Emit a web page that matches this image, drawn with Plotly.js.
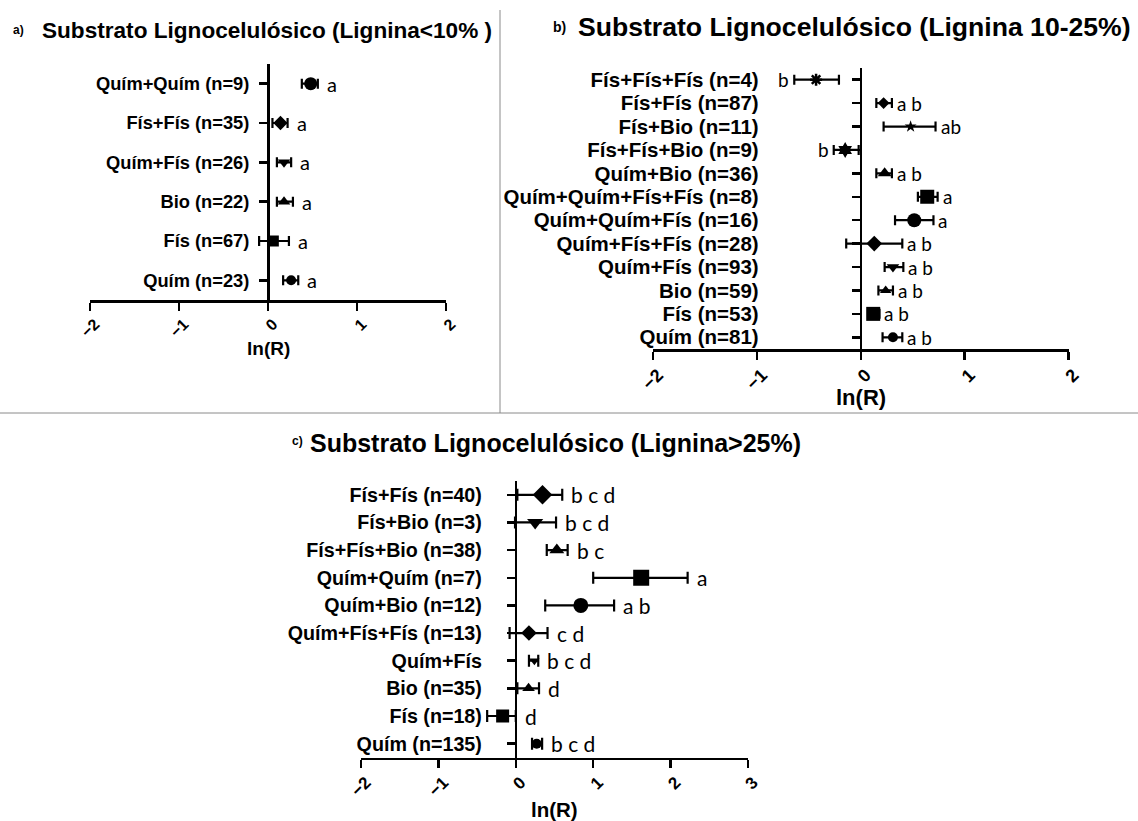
<!DOCTYPE html>
<html>
<head>
<meta charset="utf-8">
<script src="https://cdn.plot.ly/plotly-3.0.1.min.js"></script>
<style>html,body{margin:0;padding:0;background:#fff}#chart{width:1138px;height:821px}</style>
</head>
<body>
<div id="chart"></div>
<script>
// ---------- Panel a) Lignina<10% ----------
const catsA  = ['Quím+Quím (n=9)','Fís+Fís (n=35)','Quím+Fís (n=26)','Bio (n=22)','Fís (n=67)','Quím (n=23)'];
const meanA  = [0.48, 0.14, 0.18, 0.18, 0.06, 0.26];
const lowA   = [0.38, 0.05, 0.10, 0.10, -0.10, 0.17];
const highA  = [0.56, 0.22, 0.26, 0.28, 0.235, 0.34];
const letA   = ['a','a','a','a','a','a'];

// ---------- Panel b) Lignina 10-25% ----------
const catsB  = ['Fís+Fís+Fís (n=4)','Fís+Fís (n=87)','Fís+Bio (n=11)','Fís+Fís+Bio (n=9)','Quím+Bio (n=36)',
                'Quím+Quím+Fís+Fís (n=8)','Quím+Quím+Fís (n=16)','Quím+Fís+Fís (n=28)','Quím+Fís (n=93)',
                'Bio (n=59)','Fís (n=53)','Quím (n=81)'];
const meanB  = [-0.43, 0.22, 0.48, -0.15, 0.23, 0.64, 0.515, 0.13, 0.31, 0.24, 0.12, 0.31];
const lowB   = [-0.64, 0.15, 0.22, -0.26, 0.15, 0.55, 0.33, -0.14, 0.23, 0.17, 0.07, 0.21];
const highB  = [-0.21, 0.30, 0.72, -0.02, 0.30, 0.74, 0.70, 0.40, 0.41, 0.31, 0.18, 0.40];
const letB   = ['b','a b','ab','b','a b','a','a','a b','a b','a b','a b','a b'];
const letBLeft = [true,false,false,true,false,false,false,false,false,false,false,false];

// ---------- Panel c) Lignina>25% ----------
const catsC  = ['Fís+Fís (n=40)','Fís+Bio (n=3)','Fís+Fís+Bio (n=38)','Quím+Quím (n=7)','Quím+Bio (n=12)',
                'Quím+Fís+Fís (n=13)','Quím+Fís','Bio (n=35)','Fís (n=18)','Quím (n=135)'];
const meanC  = [0.345, 0.25, 0.53, 1.62, 0.84, 0.17, 0.24, 0.165, -0.17, 0.27];
const lowC   = [0.02, -0.01, 0.40, 1.00, 0.38, -0.08, 0.17, 0.02, -0.37, 0.21];
const highC  = [0.60, 0.52, 0.67, 2.22, 1.27, 0.41, 0.29, 0.30, 0.00, 0.34];
const letC   = ['b c d','b c d','b c','a','a b','c d','b c d','d','d','b c d'];

const tickVals = [-2,-1,0,1,2,3];
const axisTitle = 'ln(R)';

// ---------- styles ----------
const symA = ['circle','diamond','triangle-down','triangle-up','square','circle'];
const sizA = [13,11,11,11,11,10];
const symB = ['asterisk-open','diamond','star','hexagram','triangle-up','square','circle','diamond','triangle-down','triangle-up','square','circle'];
const sizB = [10,9,9,12,12,14,14,12,11,10,14,10];
const symC = ['diamond','triangle-down','triangle-up','square','circle','diamond','triangle-down','triangle-up','square','circle'];
const sizC = [15,14,13,16,15,12,9,11,13,10];

const W = 1138, H = 821;
const LAB = 'Liberation Sans, Arial, sans-serif';
const LET = 'Lato, Open Sans, sans-serif';

function trace(cats, mean, low, high, sym, siz, xa, ya, capw){
  return {
    type:'scatter', mode:'markers', x:mean, y:cats, xaxis:xa, yaxis:ya,
    marker:{symbol:sym, size:siz, color:'#000', opacity:1,
            line:{color:'#000', width:sym.map(s=>s.indexOf('open')>=0?2.5:0)}},
    error_x:{type:'data', symmetric:false,
             array:high.map((h,i)=>h-mean[i]), arrayminus:low.map((l,i)=>mean[i]-l),
             color:'#000', thickness:2.2, width:capw},
    hoverinfo:'x+y', showlegend:false
  };
}

const data = [
  trace(catsA, meanA, lowA, highA, symA, sizA, 'x', 'y', 5),
  trace(catsB, meanB, lowB, highB, symB, sizB, 'x2', 'y2', 5),
  trace(catsC, meanC, lowC, highC, symC, sizC, 'x3', 'y3', 6)
];

function px2fx(p){ return p / W; }
function py2fy(p){ return 1 - p / H; }

const domA = {x:[px2fx(90), px2fx(446)],  y:[py2fy(300), py2fy(64)],   r:[-2,2]};
const domB = {x:[px2fx(653), px2fx(1068.5)], y:[py2fy(349), py2fy(68)], r:[-2,2]};
const domC = {x:[px2fx(361), px2fx(748)], y:[py2fy(757.5), py2fy(481)], r:[-2,3]};
function zeroPos(d){ return d.x[0] + (0 - d.r[0])/(d.r[1]-d.r[0])*(d.x[1]-d.x[0]); }

function xAxis(d, ya, fs){
  return {
    domain:d.x, anchor:ya, range:d.r, tickmode:'array', tickvals:tickVals.filter(v=>v>=d.r[0]&&v<=d.r[1]),
    ticks:'outside', ticklen:8, tickwidth:2.5, tickcolor:'#000',
    showline:true, linewidth:2.5, linecolor:'#000', showgrid:false, zeroline:false,
    tickangle:-45, ticklabelshift:5, ticklabelstandoff:-2,
    tickfont:{family:LAB, size:fs, color:'#000', weight:'bold'},
    fixedrange:true
  };
}
function yAxis(d, cats, fs, standoff){
  return {
    domain:d.y, anchor:'free', position:zeroPos(d),
    type:'category', categoryorder:'array', categoryarray:cats,
    tickmode:'array', tickvals:cats, ticktext:cats,
    range:[cats.length-0.5, -0.5],
    ticks:'outside', ticklen:8, tickwidth:2.5, tickcolor:'#000',
    showline:true, linewidth:2.5, linecolor:'#000', showgrid:false, zeroline:false,
    tickfont:{family:LAB, size:fs, color:'#000', weight:'bold'},
    ticklabelstandoff:standoff, fixedrange:true
  };
}

const annotations = [];
function letters(cats, low, high, lets, leftFlags, xa, ya, fs, shift){
  cats.forEach((c,i)=>{
    const left = leftFlags && leftFlags[i];
    annotations.push({
      xref:xa, yref:ya, x: left ? low[i] : high[i], y:c,
      text:lets[i], showarrow:false,
      xanchor: left ? 'right' : 'left', yanchor:'middle',
      xshift: left ? -shift : shift,
      font:{family:LET, size:fs, color:'#000'}
    });
  });
}
letters(catsA, lowA, highA, letA, null, 'x', 'y', 20, 7);
letters(catsB, lowB, highB, letB, letBLeft, 'x2', 'y2', 19, 3);
letters(catsC, lowC, highC, letC, null, 'x3', 'y3', 21, 7);

function paperText(px, py, txt, fs, anchor){
  annotations.push({xref:'paper', yref:'paper', x:px2fx(px), y:py2fy(py), xanchor:anchor||'left', yanchor:'middle',
    text:txt, showarrow:false, font:{family:LAB, size:fs, color:'#000', weight:'bold'}});
}
paperText(11, 30, 'a)', 12);
paperText(40, 30, 'Substrato Lignocelulósico (Lignina<10% )', 22.6);
paperText(551, 27, 'b)', 14);
paperText(576, 27, 'Substrato Lignocelulósico (Lignina 10-25%)', 26.6);
paperText(290, 441, 'c)', 12);
paperText(308, 443, 'Substrato Lignocelulósico (Lignina>25%)', 25);
// axis titles (centred under each x-axis domain)
paperText((domA.x[0]+domA.x[1])/2*W, 348, axisTitle, 19, 'center');
paperText((domB.x[0]+domB.x[1])/2*W, 397, axisTitle, 22, 'center');
paperText((domC.x[0]+domC.x[1])/2*W, 809, axisTitle, 20.5, 'center');

const layout = {
  width:W, height:H, margin:{l:0,r:0,t:0,b:0},
  paper_bgcolor:'#fff', plot_bgcolor:'rgba(0,0,0,0)', showlegend:false,
  xaxis:  xAxis(domA, 'y', 16),
  yaxis:  yAxis(domA, catsA, 18.3, 6),
  xaxis2: xAxis(domB, 'y2', 18),
  yaxis2: yAxis(domB, catsB, 20.5, 89),
  xaxis3: xAxis(domC, 'y3', 17),
  yaxis3: yAxis(domC, catsC, 19.7, 21),
  annotations: annotations,
  shapes:[
    {type:'line', xref:'paper', yref:'paper', x0:px2fx(500), x1:px2fx(500), y0:py2fy(10), y1:py2fy(413), line:{color:'#8a8a8a', width:1}},
    {type:'line', xref:'paper', yref:'paper', x0:0, x1:1, y0:py2fy(413), y1:py2fy(413), line:{color:'#8a8a8a', width:1}}
  ]
};

Plotly.newPlot('chart', data, layout, {displayModeBar:false, staticPlot:true});
</script>
</body>
</html>
